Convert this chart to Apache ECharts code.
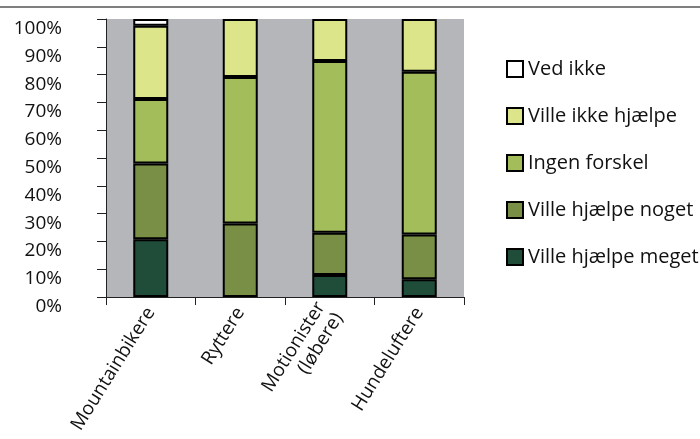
<!DOCTYPE html>
<html><head><meta charset="utf-8">
<script src="https://cdn.jsdelivr.net/npm/echarts@6/dist/echarts.min.js"></script>
<style>html,body{margin:0;padding:0;background:#fff}#c{width:700px;height:439px}</style>
</head><body><div id="c"></div>
<script>
const categories = ['Mountainbikere', 'Ryttere', 'Motionister\n(løbere)', 'Hundeluftere'];
const seriesNames = ['Ville hjælpe meget', 'Ville hjælpe noget', 'Ingen forskel', 'Ville ikke hjælpe', 'Ved ikke'];
const villeHjaelpeMeget = [20.8, 0, 7.9, 6.4];
const villeHjaelpeNoget = [27.2, 26.4, 15.2, 16.1];
const ingenForskel = [23.2, 52.7, 61.8, 58.5];
const villeIkkeHjaelpe = [26.4, 20.9, 15.1, 19.0];
const vedIkke = [2.4, 0, 0, 0];
const yTicks = [0, 10, 20, 30, 40, 50, 60, 70, 80, 90, 100];

const colors = ['#1f4d3a', '#798f45', '#a3bd5b', '#dde58a', '#ffffff'];
const values = [villeHjaelpeMeget, villeHjaelpeNoget, ingenForskel, villeIkkeHjaelpe, vedIkke];
const font = 'Open Sans';

const chart = echarts.init(document.getElementById('c'), null, {renderer: 'canvas'});
chart.setOption({
  animation: false,
  textStyle: {fontFamily: font},
  graphic: [{type: 'line', shape: {x1: 0, y1: 7, x2: 700, y2: 7}, style: {stroke: '#555', lineWidth: 1.5}}],
  grid: {left: 106, right: 236, top: 19, bottom: 142, show: true, backgroundColor: '#b5b6ba', borderWidth: 0},
  legend: {
    orient: 'vertical', left: 501, top: 54,
    data: seriesNames.slice().reverse(),
    itemWidth: 16, itemHeight: 16, itemGap: 27,
    textStyle: {fontFamily: font, fontSize: 20, lineHeight: 20, color: '#111'},
    icon: 'rect'
  },
  xAxis: {
    type: 'category', data: categories,
    axisLine: {lineStyle: {color: '#222', width: 1}},
    axisTick: {show: true, length: 8, alignWithLabel: false, lineStyle: {color: '#222'}},
    axisLabel: {rotate: 58, fontSize: 19, color: '#111', fontFamily: font, margin: 12, interval: 0, lineHeight: 21}
  },
  yAxis: {
    type: 'value', min: 0, max: 100, interval: 10,
    axisLine: {show: true, lineStyle: {color: '#222'}},
    axisTick: {show: true, length: 9, lineStyle: {color: '#222'}},
    splitLine: {show: false},
    axisLabel: {
      fontSize: 19, color: '#111', fontFamily: font, margin: 44,
      verticalAlign: 'top', lineHeight: 19,
      formatter: v => yTicks.includes(v) ? v + '%' : ''
    }
  },
  series: seriesNames.map((n, i) => ({
    name: n, type: 'bar', stack: 'total', barWidth: 35,
    data: values[i].map(v => v === 0 ? null : v),
    itemStyle: {color: colors[i], borderColor: '#000', borderWidth: 2}
  }))
});
</script></body></html>
